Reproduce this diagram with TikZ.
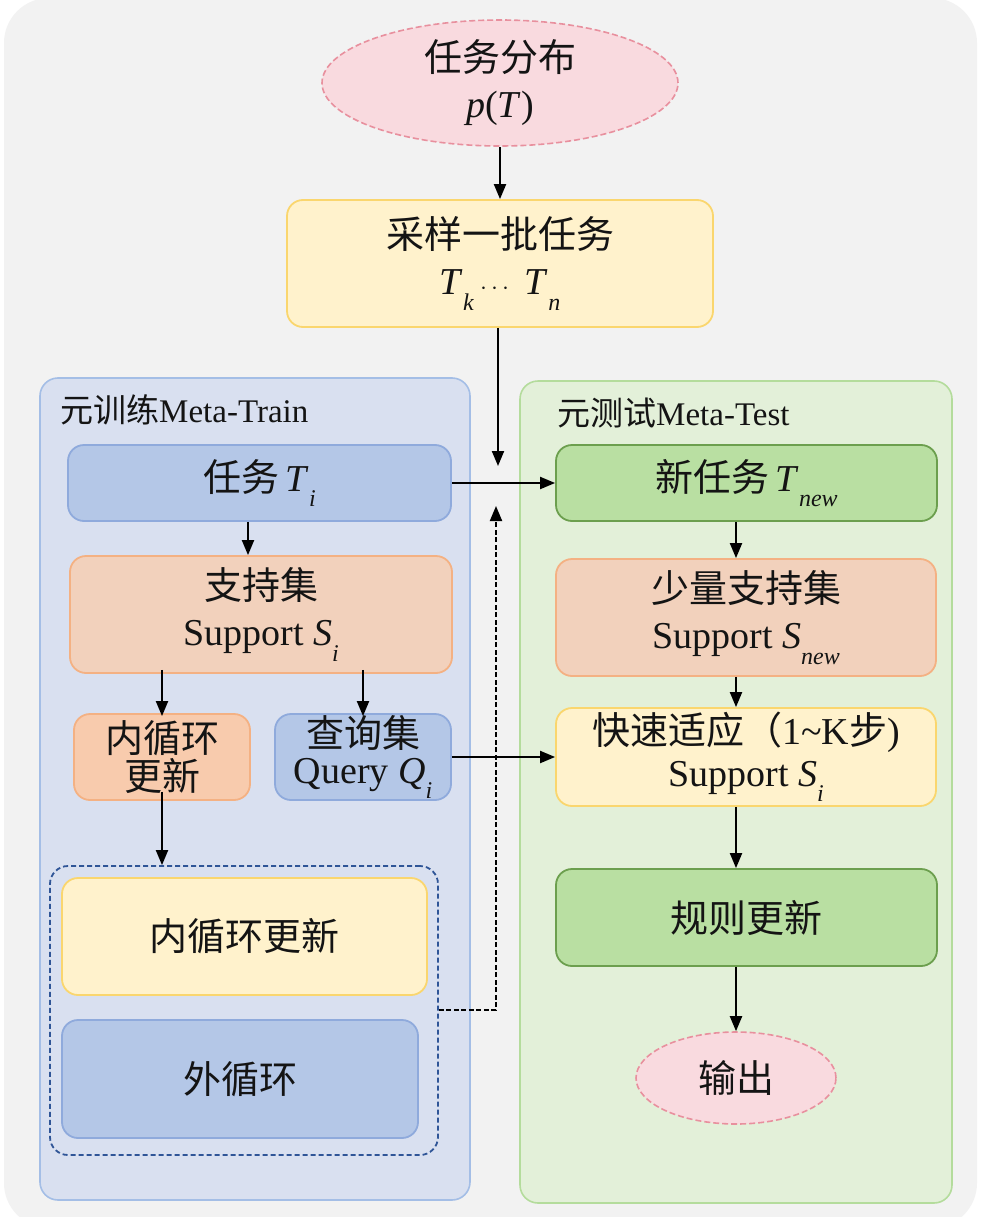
\documentclass[tikz,border=0pt]{standalone}
\usepackage{fontspec}
\setmainfont{Liberation Serif}
\newfontfamily\cjk{Noto Sans CJK SC}
\usetikzlibrary{shapes.geometric,arrows.meta}
\definecolor{bggray}{HTML}{F2F2F2}
\definecolor{pinkfill}{HTML}{F9DADF}
\definecolor{pinkline}{HTML}{E8909E}
\definecolor{yelfill}{HTML}{FFF2CC}
\definecolor{yelline}{HTML}{FAD66E}
\definecolor{lpfill}{HTML}{D9E0F0}
\definecolor{lpline}{HTML}{A4BEE6}
\definecolor{rpfill}{HTML}{E3F0D9}
\definecolor{rpline}{HTML}{B4DC9C}
\definecolor{bluefill}{HTML}{B4C7E7}
\definecolor{blueline}{HTML}{8FAADC}
\definecolor{peachfill}{HTML}{F2D1BC}
\definecolor{peachline}{HTML}{F4B183}
\definecolor{orfill}{HTML}{F8CBAD}
\definecolor{greenfill}{HTML}{B9DFA2}
\definecolor{greenline}{HTML}{6C9F4E}
\definecolor{dkblue}{HTML}{2F5597}
\newcommand\sbs[1]{\raisebox{-0.40em}{\fontsize{24}{24}\selectfont\itshape #1}}
\tikzset{
  txt/.style={font=\fontsize{38}{46}\selectfont, text=black!92, align=center},
  boxy/.style={txt, rectangle, rounded corners=16pt, line width=1.8pt, inner sep=0pt},
  ellip/.style={txt, ellipse, fill=pinkfill, draw=pinkline, dash pattern=on 6pt off 3pt, line width=1.6pt, inner sep=0pt},
  panel/.style={rectangle, rounded corners=18pt, line width=1.6pt, inner sep=0pt},
  arr/.style={line width=2pt, -{Triangle[length=15pt,width=12pt]}},
  darr/.style={line width=2pt, dash pattern=on 5pt off 2.5pt, -{Triangle[length=15pt,width=12pt]}},
  plabel/.style={font=\fontsize{33}{38}\selectfont, text=black!92, anchor=west, inner sep=0pt}
}
\begin{document}
\begin{tikzpicture}[x=1pt,y=-1pt]
\useasboundingbox (0,0) rectangle (980,1217);
\fill[white] (0,0) rectangle (980,1217);
\fill[bggray, rounded corners=45pt] (4,-2) rectangle (977,1228);
% panels
\node[panel, fill=lpfill, draw=lpline, minimum width=430pt, minimum height=822pt] (lp) at (255,789) {};
\node[panel, fill=rpfill, draw=rpline, minimum width=432pt, minimum height=822pt] (rp) at (736,792) {};
\node[plabel] (lpl) at (60,410) {{\cjk 元训练}Meta-Train};
\node[plabel] (rpl) at (557,413) {{\cjk 元测试}Meta-Test};
% top
\node[ellip, minimum width=356pt, minimum height=126pt] (dist) at (500,83) {{\cjk 任务分布}\\\textit{p}(\textit{T})};
\node[boxy, fill=yelfill, draw=yelline, minimum width=426pt, minimum height=127pt] (sample) at (500,263.5) {{\cjk 采样一批任务}\\\textit{T}\sbs{k}\,$\cdots$\, \textit{T}\sbs{n}};
% left
\node[boxy, fill=bluefill, draw=blueline, minimum width=383pt, minimum height=76pt] (task) at (259.5,483) {{\cjk 任务}\,\textit{T}\sbs{i}};
\node[boxy, fill=peachfill, draw=peachline, minimum width=382pt, minimum height=117pt] (sup) at (261,614.5) {{\cjk 支持集}\\Support \textit{S}\sbs{i}};
\node[boxy, fill=orfill, draw=peachline, minimum width=176pt, minimum height=86pt, font=\fontsize{38}{38}\selectfont] (inner) at (162,757) {{\cjk 内循环}\\{\cjk 更新}};
\node[boxy, fill=bluefill, draw=blueline, minimum width=176pt, minimum height=86pt, font=\fontsize{38}{36}\selectfont] (query) at (363,757) {{\cjk 查询集}\\Query \textit{Q}\sbs{i}};
\node[rectangle, rounded corners=18pt, draw=dkblue, dash pattern=on 5pt off 3pt, line width=1.8pt, minimum width=388pt, minimum height=289pt] (dbox) at (244,1010.5) {};
\node[boxy, fill=yelfill, draw=yelline, minimum width=365pt, minimum height=117pt] (inner2) at (244.5,936.5) {{\cjk 内循环更新}};
\node[boxy, fill=bluefill, draw=blueline, minimum width=356pt, minimum height=118pt] (outer) at (240,1079) {{\cjk 外循环}};
% right
\node[boxy, fill=greenfill, draw=greenline, minimum width=381pt, minimum height=76pt] (newt) at (746.5,483) {{\cjk 新任务}\,\textit{T}\sbs{new}};
\node[boxy, fill=peachfill, draw=peachline, minimum width=380pt, minimum height=117pt] (fsup) at (746,617.5) {{\cjk 少量支持集}\\Support \textit{S}\sbs{new}};
\node[boxy, fill=yelfill, draw=yelline, minimum width=380pt, minimum height=98pt, font=\fontsize{38}{42}\selectfont] (fast) at (746,757) {{\cjk 快速适应（}1\textasciitilde K{\cjk 步})\\Support \textit{S}\sbs{i}};
\node[boxy, fill=greenfill, draw=greenline, minimum width=381pt, minimum height=97pt] (rule) at (746.5,917.5) {{\cjk 规则更新}};
\node[ellip, minimum width=200pt, minimum height=92pt] (out) at (736,1078) {{\cjk 输出}};
% coordinates
\coordinate (xa) at (500,0);
\coordinate (xb) at (498,0);
\coordinate (mend) at (498,466);
\coordinate (dcorner) at (496,1010);
\coordinate (dend) at (496,506);
\coordinate (xl) at (248,0);
\coordinate (xs1) at (162,0);
\coordinate (xs2) at (363,0);
\coordinate (xr) at (736,0);
% connectors
\draw[arr] (dist.south -| xa) -- (sample.north -| xa);
\draw[arr] (sample.south -| xb) -- (mend);
\draw[arr] (task.east) -- (newt.west);
\draw[arr] (task.south -| xl) -- (sup.north -| xl);
\draw[arr] ([yshift=4pt]sup.south -| xs1) -- ([yshift=-3pt]inner.north -| xs1);
\draw[arr] ([yshift=4pt]sup.south -| xs2) -- ([yshift=-3pt]query.north -| xs2);
\draw[arr] ([yshift=9pt]inner.south -| xs1) -- (dbox.north -| xs1);
\draw[arr] (query.east) -- (fast.west);
\draw[darr] (dbox.east |- dcorner) -- (dcorner) -- (dend);
\draw[arr] (newt.south -| xr) -- (fsup.north -| xr);
\draw[arr] (fsup.south -| xr) -- (fast.north -| xr);
\draw[arr] (fast.south -| xr) -- (rule.north -| xr);
\draw[arr] (rule.south -| xr) -- (out.north -| xr);
\end{tikzpicture}
\end{document}
